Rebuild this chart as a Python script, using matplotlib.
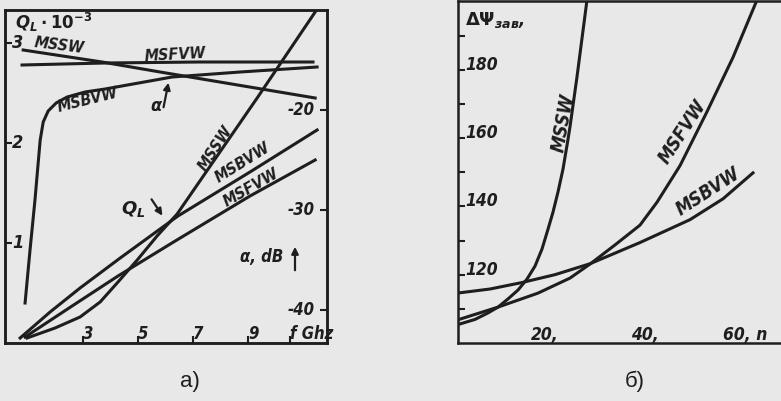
import matplotlib
matplotlib.use('Agg')
import matplotlib.pyplot as plt

plt.rcParams['mathtext.fontset'] = 'custom'
plt.rcParams['mathtext.rm'] = 'DejaVu Sans:bold'
plt.rcParams['mathtext.it'] = 'DejaVu Sans:italic:bold'
plt.rcParams['mathtext.bf'] = 'DejaVu Sans:bold'

# ---------------- data: panel a) ----------------
# quality factor Q_L (x 10^-3) vs frequency f, GHz
f_q_mssw = [0.96, 1.98, 2.89, 3.62, 4.27, 5.0, 5.69, 6.42, 9.33, 11.44]
q_mssw = [0.05, 0.15, 0.26, 0.41, 0.61, 0.84, 1.07, 1.29, 2.45, 3.31]
f_q_msbvw = [0.71, 1.8, 2.89, 4.35, 6.45, 9.07, 11.51]
q_msbvw = [0.05, 0.31, 0.55, 0.85, 1.27, 1.71, 2.13]
f_q_msfvw = [0.89, 2.6, 4.27, 6.35, 9.07, 11.44]
q_msfvw = [0.06, 0.37, 0.67, 1.02, 1.47, 1.83]

# attenuation alpha, dB vs frequency f, GHz
f_a_mssw = [0.82, 3.69, 5.8, 11.44]
a_mssw = [-14.0, -15.2, -16.2, -18.8]
f_a_msfvw = [0.78, 3.8, 7.25, 11.36]
a_msfvw = [-15.5, -15.3, -15.2, -15.2]
f_a_msbvw = [0.89, 1.07, 1.25, 1.36, 1.44, 1.55, 1.73, 2.02, 2.42, 3.07, 3.8, 6.24, 8.71, 11.51]
a_msbvw = [-39.3, -34.0, -29.0, -25.5, -23.0, -21.2, -20.1, -19.3, -18.7, -18.2, -17.9, -16.7, -16.2, -15.7]

fa_ticks = [3, 5, 7, 9, 10.53]
fa_ticklabels = ['3', '5', '7', '9', 'f Ghz']
q_ticks = [1, 2, 3]
q_ticklabels = ['1', '2', '3']
alpha_ticks = [-40, -30, -20]
alpha_ticklabels = ['-40', '-30', '-20']

# ---------------- data: panel б) ----------------
n_mssw = [2.6, 6.0, 8.6, 10.6, 12.6, 14.6, 16.4, 18.0, 19.4, 20.6, 21.6, 22.6, 23.6, 24.6, 25.0, 26.4, 28.4]
d_mssw = [105.4, 106.9, 108.8, 110.5, 112.9, 115.5, 118.7, 122.5, 127.5, 133.3, 138.3, 144.2, 150.9,
          159.6, 163.3, 177.9, 200.4]
n_msfvw = [2.6, 10.6, 18.6, 25.0, 29.0, 34.0, 39.0, 42.4, 47.0, 52.4, 57.6, 62.4]
d_msfvw = [106.8, 110.5, 114.6, 119.0, 123.1, 128.7, 134.5, 141.2, 151.9, 167.7, 183.6, 200.4]
n_msbvw = [3.0, 9.0, 15.4, 22.0, 29.0, 39.0, 49.0, 55.6, 61.6]
d_msbvw = [114.7, 115.8, 117.7, 120.0, 123.2, 129.4, 136.1, 142.2, 149.8]

n_ticks = [20, 40, 60]
n_ticklabels = ['20,', '40,', '60, n']
d_major = [120, 140, 160, 180]
d_major_labels = ['120', '140', '160', '180']
d_minor = [110, 130, 150, 170, 190]

# ---------------- style ----------------
BG = '#e8e8e8'
INK = '#1e1e1e'
LW = 2.2
hand = dict(family='DejaVu Sans', style='italic', stretch='condensed', weight='bold')

W, H = 781, 401


def rect(x0, y0, x1, y1):
    return [x0 / W, 1 - y1 / H, (x1 - x0) / W, (y1 - y0) / H]


fig = plt.figure(figsize=(W / 100, H / 100), dpi=100, facecolor=BG)

# ===== panel a) =====
axA = fig.add_axes(rect(5, 10, 327, 343), facecolor=BG)
axA.set_xlim(0.16, 11.87)
axA.set_ylim(0, 3.33)
axB = axA.twinx()
axB.set_ylim(-43.3, -10.0)

for ax in (axA, axB):
    for s in ax.spines.values():
        s.set_linewidth(1.8)
        s.set_color(INK)

axA.plot(f_q_mssw, q_mssw, color=INK, lw=LW)
axA.plot(f_q_msbvw, q_msbvw, color=INK, lw=LW)
axA.plot(f_q_msfvw, q_msfvw, color=INK, lw=LW)
axB.plot(f_a_mssw, a_mssw, color=INK, lw=LW)
axB.plot(f_a_msfvw, a_msfvw, color=INK, lw=LW)
axB.plot(f_a_msbvw, a_msbvw, color=INK, lw=LW)

axA.set_xticks(fa_ticks)
axA.set_xticklabels(fa_ticklabels, ha='left', va='baseline', fontsize=12, color=INK, **hand)
axA.tick_params(axis='x', direction='in', length=5, width=1.5, pad=-3, color=INK)
axA.set_yticks(q_ticks)
axA.set_yticklabels(q_ticklabels, ha='left', va='center', fontsize=13, color=INK, **hand)
axA.tick_params(axis='y', direction='in', length=5, width=1.5, pad=-5, color=INK)
axB.set_yticks(alpha_ticks)
axB.set_yticklabels(alpha_ticklabels, ha='right', va='center', fontsize=12, color=INK, **hand)
axB.tick_params(axis='y', direction='in', length=5, width=1.5, pad=-9, color=INK)


def ta(px, py):
    return ((px - 5) / 322, (343 - py) / 333)


def txt(ax, conv, px, py, s, size=11.5, rot=0, ha='center', va='center', **kw):
    ax.text(*conv(px, py), s, transform=ax.transAxes, fontsize=size, rotation=rot,
            ha=ha, va=va, color=INK, rotation_mode='anchor', **hand, **kw)


txt(axB, ta, 15, 22, r'$Q_L\cdot10^{-3}$', size=12, ha='left')
txt(axB, ta, 59, 46, 'MSSW', rot=-7)
txt(axB, ta, 175, 55, 'MSFVW', rot=3)
txt(axB, ta, 88, 100, 'MSBVW', rot=14)
txt(axB, ta, 156, 106, 'α', size=13)
txt(axB, ta, 216, 148, 'MSSW', rot=57)
txt(axB, ta, 243, 163, 'MSBVW', rot=32)
txt(axB, ta, 251, 188, 'MSFVW', rot=30)
txt(axB, ta, 133, 209, r'$Q_L$', size=13)
txt(axB, ta, 262, 257, 'α, dB', size=12)

arrow = dict(arrowstyle='-|>', lw=1.6, color=INK, mutation_scale=10)
axB.annotate('', xy=ta(169, 80), xytext=ta(163, 110), xycoords='axes fraction',
             textcoords='axes fraction', arrowprops=arrow)
axB.annotate('', xy=ta(164, 218), xytext=ta(150, 197), xycoords='axes fraction',
             textcoords='axes fraction', arrowprops=arrow)
axB.annotate('', xy=ta(295, 244), xytext=ta(295, 273), xycoords='axes fraction',
             textcoords='axes fraction', arrowprops=arrow)

# ===== panel б) =====
axC = fig.add_axes(rect(458, 1, 790, 343), facecolor=BG)
axC.set_xlim(2.6, 69)
axC.set_ylim(100, 200.1)
for s in axC.spines.values():
    s.set_linewidth(1.8)
    s.set_color(INK)

axC.plot(n_mssw, d_mssw, color=INK, lw=LW)
axC.plot(n_msfvw, d_msfvw, color=INK, lw=LW)
axC.plot(n_msbvw, d_msbvw, color=INK, lw=LW)

axC.set_xticks(n_ticks)
axC.set_xticklabels(n_ticklabels, ha='center', va='baseline', fontsize=12.5, color=INK, **hand)
axC.tick_params(axis='x', direction='in', length=0, pad=-2)
axC.set_yticks(d_major)
axC.set_yticklabels(d_major_labels, ha='left', va='baseline', fontsize=12.5, color=INK, **hand)
axC.set_yticks(d_minor, minor=True)
axC.tick_params(axis='y', which='both', direction='in', length=5, width=1.5, pad=-5, color=INK)


def tb(px, py):
    return ((px - 458) / 332, (343 - py) / 342)


txt(axC, tb, 465, 20, r'$\Delta\Psi_{зав}$,', size=13, ha='left')
txt(axC, tb, 563, 123, 'MSSW', size=13.5, rot=80)
txt(axC, tb, 683, 132, 'MSFVW', size=13.5, rot=57)
txt(axC, tb, 708, 192, 'MSBVW', size=13.5, rot=33)

fig.text(190 / W, 1 - 381 / H, 'a)', fontsize=16, color=INK, ha='center', va='center',
         family='Liberation Sans')
fig.text(635 / W, 1 - 381 / H, 'б)', fontsize=16, color=INK, ha='center', va='center',
         family='Liberation Sans')

fig.savefig('out.png', dpi=100, facecolor=BG)
